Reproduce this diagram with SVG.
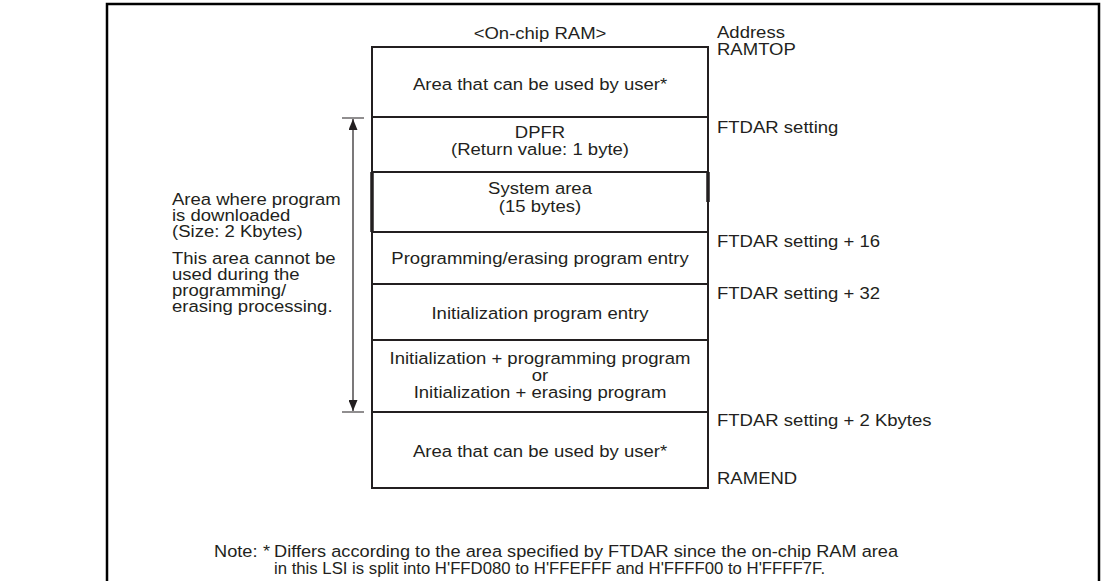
<svg xmlns="http://www.w3.org/2000/svg" width="1102" height="581" viewBox="0 0 1102 581">
<defs>
<style>
text{font-family:"Liberation Sans",Arial,sans-serif;font-size:17px;fill:#231f20}
.c{text-anchor:middle}
.box{fill:none;stroke:#231f20;stroke-width:2}
.thin{stroke:#231f20;stroke-width:1.2;fill:none}
</style>
<marker id="ah" viewBox="0 0 10 10" refX="10" refY="5" markerWidth="11" markerHeight="9" markerUnits="userSpaceOnUse" orient="auto" preserveAspectRatio="none">
<path d="M0,0 L10,5 L0,10 Z" fill="#231f20"/>
</marker>
</defs>
<rect width="1102" height="581" fill="#fff"/>
<path d="M107,581 V4 H1099 V581" fill="none" stroke="#000" stroke-width="2.5"/>
<text class="c" transform="translate(540,39) scale(1.09,1)">&lt;On-chip RAM&gt;</text>
<text transform="translate(717,38) scale(1.09,1)">Address</text>
<text transform="translate(717,55) scale(1.09,1)">RAMTOP</text>
<g id="user-top"><rect class="box" x="372" y="47" width="336" height="70"/><text class="c" transform="translate(540,90) scale(1.09,1)">Area that can be used by user*</text></g>
<g id="dpfr"><rect class="box" x="372" y="117" width="336" height="55"/><text class="c" transform="translate(540,138) scale(1.09,1)">DPFR</text><text class="c" transform="translate(540,155) scale(1.09,1)">(Return value: 1 byte)</text></g>
<g id="system"><rect class="box" x="372" y="172" width="336" height="60"/><path d="M372,172V232M708,172V202" stroke="#231f20" stroke-width="3.5"/><text class="c" transform="translate(540,194) scale(1.09,1)">System area</text><text class="c" transform="translate(540,212) scale(1.09,1)">(15 bytes)</text></g>
<g id="prog-entry"><rect class="box" x="372" y="232" width="336" height="52"/><text class="c" transform="translate(540,264) scale(1.09,1)">Programming/erasing program entry</text></g>
<g id="init-entry"><rect class="box" x="372" y="284" width="336" height="56"/><text class="c" transform="translate(540,319) scale(1.09,1)">Initialization program entry</text></g>
<g id="programs"><rect class="box" x="372" y="340" width="336" height="72"/><text class="c" transform="translate(540,364) scale(1.09,1)">Initialization + programming program</text><text class="c" transform="translate(540,380.5) scale(1.09,1)">or</text><text class="c" transform="translate(540,398) scale(1.09,1)">Initialization + erasing program</text></g>
<g id="user-bottom"><rect class="box" x="372" y="412" width="336" height="76"/><text class="c" transform="translate(540,457) scale(1.09,1)">Area that can be used by user*</text></g>
<g id="addresses">
<text transform="translate(717,133) scale(1.09,1)">FTDAR setting</text>
<text transform="translate(717,247) scale(1.09,1)">FTDAR setting + 16</text>
<text transform="translate(717,299) scale(1.09,1)">FTDAR setting + 32</text>
<text transform="translate(717,426) scale(1.09,1)">FTDAR setting + 2 Kbytes</text>
<text transform="translate(717,484) scale(1.09,1)">RAMEND</text>
</g>
<g id="download-label">
<text transform="translate(172,205) scale(1.09,1)">Area where program</text>
<text transform="translate(172,221) scale(1.09,1)">is downloaded</text>
<text transform="translate(172,237) scale(1.09,1)">(Size: 2 Kbytes)</text>
<text transform="translate(172,264) scale(1.09,1)">This area cannot be</text>
<text transform="translate(172,280) scale(1.09,1)">used during the</text>
<text transform="translate(172,296) scale(1.09,1)">programming/</text>
<text transform="translate(172,312) scale(1.09,1)">erasing processing.</text>
</g>
<g id="connectors">
<path class="thin" d="M342,118H364M342,412H364"/>
<path class="thin" d="M353,265V119" marker-end="url(#ah)"/>
<path class="thin" d="M353,265V411" marker-end="url(#ah)"/>
</g>
<g id="note">
<text transform="translate(214,557) scale(1.07,1)">Note:</text>
<text transform="translate(263,557) scale(1.07,1)">*</text>
<text transform="translate(274,557) scale(1.07,1)">Differs according to the area specified by FTDAR since the on-chip RAM area</text>
<text transform="translate(274,574) scale(1.07,1)" textLength="515" lengthAdjust="spacingAndGlyphs">in this LSI is split into H'FFD080 to H'FFEFFF and H'FFFF00 to H'FFFF7F.</text>
</g>
</svg>
